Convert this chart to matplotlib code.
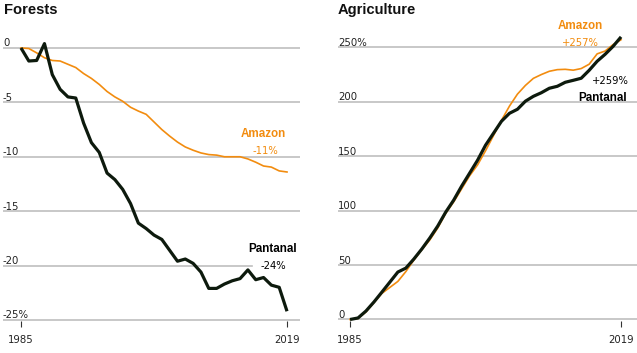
import matplotlib
matplotlib.use('Agg')
import matplotlib.pyplot as plt
from matplotlib import transforms

years = list(range(1985, 2020))

# forest cover change, % since 1985
forest_amazon = [0, -0.05, -0.45, -0.9, -1.15, -1.2, -1.5, -1.8, -2.35, -2.8,
                 -3.35, -4.0, -4.5, -4.9, -5.45, -5.8, -6.1, -6.8, -7.5, -8.1,
                 -8.65, -9.1, -9.4, -9.65, -9.8, -9.85, -10.0, -10.0, -10.0, -10.2,
                 -10.5, -10.85, -10.95, -11.3, -11.4]
forest_pantanal = [0, -1.2, -1.15, 0.4, -2.45, -3.8, -4.5, -4.6, -6.9, -8.7,
                   -9.6, -11.5, -12.1, -13.0, -14.3, -16.1, -16.6, -17.2, -17.6, -18.6,
                   -19.6, -19.4, -19.8, -20.6, -22.1, -22.1, -21.7, -21.4, -21.2, -20.4,
                   -21.3, -21.1, -21.8, -22.0, -24.2]

# agriculture change, % since 1985
agri_amazon = [0, 1.0, 7, 15.5, 24, 29.5, 35, 44, 54.5, 64,
               73, 84, 97.5, 108, 120, 132, 142, 155, 169, 183,
               196, 207, 215, 221.5, 225, 228, 229.5, 229.8, 229, 230.5,
               234.5, 244, 246.6, 252.5, 257]
agri_pantanal = [0, 1.4, 7.8, 16.1, 25.2, 34.4, 43.6, 47.2, 55.5, 64.7,
                 74.8, 85.8, 98.6, 109.6, 122.5, 134.4, 146.3, 160.1, 171.1, 182.1,
                 189.4, 193.1, 200.5, 205.0, 208.3, 212.4, 214.2, 217.9, 219.7, 221.6,
                 228.9, 237.2, 243.6, 250.9, 259.6]

forest_ticks = [0, -5, -10, -15, -20, -25]
forest_labels = ['0', '-5', '-10', '-15', '-20', '-25%']
agri_ticks = [0, 50, 100, 150, 200, 250]
agri_labels = ['0', '50', '100', '150', '200', '250%']

ORANGE = '#f28c0f'
DARK = '#0d1a0d'
GRID = '#bfbfbf'
TXT = '#222222'
W, H = 637, 353

fig = plt.figure(figsize=(W / 100, H / 100), dpi=100)


def px_axes(x0, x1, ytop, ybot):
    return fig.add_axes([x0 / W, 1 - ybot / H, (x1 - x0) / W, (ybot - ytop) / H])


ax1 = px_axes(3, 300, 20, 320.5)
ax2 = px_axes(338, 637, 20, 320.5)

ax1.set_xlim(1982.70, 2020.66)
ax1.set_ylim(-25.05, 2.57)
ax2.set_xlim(1983.49, 2021.0)
ax2.set_ylim(-0.92, 275.1)

for ax, ticks, labels in [(ax1, forest_ticks, forest_labels), (ax2, agri_ticks, agri_labels)]:
    for sp in ax.spines.values():
        sp.set_visible(False)
    ax.set_yticks([])
    ax.set_xticks([1985, 2019])
    ax.set_xticklabels(['1985', '2019'])
    ax.tick_params(axis='x', length=4, width=0.8, color='#333333', pad=6.3,
                   labelsize=7.3, labelcolor=TXT)
    trans = transforms.offset_copy(ax.get_yaxis_transform(), fig=fig, y=1.5, units='dots')
    for v, lab in zip(ticks, labels):
        xmax = 0.838 if v == -20 else 1
        ax.axhline(v, xmax=xmax, color=GRID, lw=1.2, zorder=0)
        ax.text(0, v, lab, transform=trans, ha='left', va='baseline',
                fontsize=7.3, color=TXT)

ax1.plot(years, forest_amazon, color=ORANGE, lw=1.2, zorder=2)
ax1.plot(years, forest_pantanal, color=DARK, lw=2.3, zorder=3,
         solid_joinstyle='round', solid_capstyle='butt')
ax2.plot(years, agri_amazon, color=ORANGE, lw=1.2, zorder=2)
ax2.plot(years, agri_pantanal, color=DARK, lw=2.3, zorder=3,
         solid_joinstyle='round', solid_capstyle='butt')

bold = dict(family=['Liberation Sans', 'DejaVu Sans'], fontweight='bold', fontsize=8.4)
reg = dict(fontsize=7.2)

ax1.text(2016.0, -8.15, 'Amazon', color=ORANGE, ha='center', va='baseline', **bold)
ax1.text(2016.2, -9.74, '-11%', color=ORANGE, ha='center', va='baseline', **reg)
ax1.text(2017.1, -18.72, 'Pantanal', color='black', ha='center', va='baseline', **bold)
ax1.text(2017.2, -20.34, '-24%', color='black', ha='center', va='baseline', **reg)

ax2.text(2013.9, 266.5, 'Amazon', color=ORANGE, ha='center', va='baseline', **bold)
ax2.text(2013.9, 251.5, '+257%', color=ORANGE, ha='center', va='baseline', **reg)
ax2.text(2020.0, 216.3, '+259%', color='black', ha='right', va='baseline', **reg)
ax2.text(2019.75, 201.0, 'Pantanal', color='black', ha='right', va='baseline', **bold)

title = dict(family=['Liberation Sans', 'DejaVu Sans'], fontweight='bold',
             fontsize=10.6, color='#111111', va='baseline', ha='left')
fig.text(4 / W, 1 - 14 / H, 'Forests', **title)
fig.text(338 / W, 1 - 14 / H, 'Agriculture', **title)

fig.savefig('out.png', dpi=100)
